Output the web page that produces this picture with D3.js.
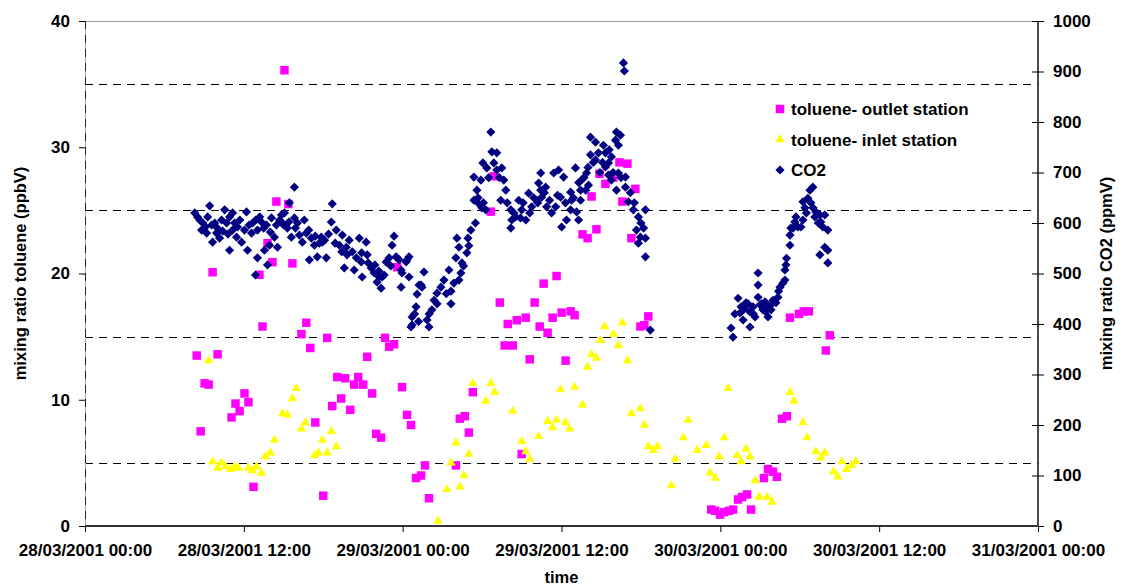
<!DOCTYPE html>
<html>
<head>
<meta charset="utf-8">
<title>toluene and CO2 mixing ratios</title>
<style>
body { margin: 0; background: #fff; }
svg text { font-family: Arial, "Liberation Sans", sans-serif; font-weight: bold; fill: #000; }
</style>
</head>
<body>
<svg id="chart" width="1122" height="588"></svg>
<script src="https://d3js.org/d3.v7.min.js"></script>
<script>
// hours since 28/03/2001 00:00
var outletHours = [8.44,8.74,9.04,9.34,9.64,10.02,11.07,11.37,11.68,12.05,12.35,12.73,13.18,13.41,13.79,14.16,14.46,15.07,15.37,15.67,
  16.35,16.72,17.02,17.40,18.0,18.3,18.68,19.06,19.36,19.66,20.04,20.34,20.64,21.02,21.32,21.69,22.0,22.37,22.67,22.98,
  23.35,23.58,23.95,24.33,24.63,25.01,25.39,25.69,25.99,28.02,28.32,28.70,29.0,29.3,30.66,30.89,31.34,31.71,31.94,32.32,
  32.62,32.99,33.30,33.60,33.97,34.35,34.65,34.95,35.33,35.63,36.01,36.31,36.69,36.99,37.59,37.97,38.27,38.64,38.87,39.32,
  39.92,40.38,40.6,40.98,41.28,41.58,41.96,42.26,42.56,47.31,47.61,47.98,48.29,48.66,48.96,49.34,49.64,50.02,50.32,51.3,
  51.6,51.98,52.28,52.66,53.03,53.26,53.94,54.31,54.69,55.97,56.27];
var outletPpbv = [13.5,7.5,11.3,11.2,20.1,13.6,8.6,9.7,9.1,10.5,9.8,3.1,19.9,15.8,22.4,20.9,25.7,36.1,25.5,20.8,
  15.2,16.1,14.1,8.2,2.4,14.9,9.5,11.8,10.1,11.7,9.2,11.2,11.8,11.2,13.4,10.5,7.3,7.0,14.9,14.2,
  14.4,20.5,11.0,8.8,8.0,3.8,4.0,4.8,2.2,4.8,8.5,8.7,7.4,10.6,24.9,27.7,17.7,14.3,16.0,14.3,
  16.3,5.7,16.5,13.2,17.7,15.8,19.2,15.3,16.5,19.8,16.9,13.1,17.0,16.7,23.1,22.8,26.1,23.5,27.9,27.1,
  27.6,28.8,25.7,28.7,22.8,26.7,15.8,15.9,16.6,1.3,1.2,0.9,1.1,1.2,1.3,2.1,2.3,2.5,1.3,3.8,
  4.5,4.3,3.9,8.5,8.7,16.5,16.8,17.0,17.0,13.9,15.1];

var inletHours = [9.34,9.64,10.02,10.32,10.62,11.0,11.3,11.6,12.35,12.66,12.96,13.33,13.63,14.01,14.31,14.92,15.29,15.67,15.97,16.35,
  16.65,17.33,17.63,17.93,18.3,18.61,18.98,26.67,27.34,27.65,28.02,28.32,28.63,29.0,29.3,30.28,30.66,30.96,32.32,32.99,
  33.3,33.6,34.27,34.95,35.33,35.63,35.93,36.31,36.61,36.99,37.59,37.97,38.27,38.64,38.95,39.25,39.92,40.3,40.6,40.98,
  41.28,41.96,42.26,42.56,42.94,43.24,44.29,44.59,45.2,45.57,46.25,46.93,47.23,47.61,47.91,48.29,48.59,49.27,49.57,49.94,
  50.24,50.62,50.92,51.53,51.9,53.26,53.56,54.24,54.54,55.22,55.59,55.89,56.57,56.87,57.18,57.55,57.93,58.23];
var inletPpbv = [13.1,5.1,4.6,5.0,4.7,4.5,4.7,4.6,4.6,4.4,4.7,4.2,5.5,5.8,6.8,8.9,8.8,10.1,10.9,7.7,
  8.2,5.6,5.8,6.8,5.8,7.5,6.3,0.4,2.9,5.0,6.6,3.1,4.0,5.7,11.3,9.9,11.3,10.6,9.1,6.7,
  5.9,5.3,7.1,8.3,7.8,8.4,10.8,8.2,7.7,11.0,9.6,12.6,13.6,13.3,14.7,15.8,15.2,14.3,16.1,13.1,
  8.9,9.3,8.0,6.3,6.0,6.3,3.2,5.3,7.0,8.4,6.0,6.4,4.2,3.8,5.5,7.0,10.9,5.6,5.1,6.1,
  5.5,3.6,2.3,2.3,1.9,10.6,9.9,8.2,7.0,5.9,5.4,5.8,4.3,3.9,5.1,4.5,4.8,5.1];

var co2Hours = [8.29,9.42,9.27,8.66,8.81,9.19,9.57,9.64,9.94,10.17,10.55,10.32,10.70,10.92,11.15,10.92,11.15,11.45,11.53,11.83,
  12.20,12.05,12.28,12.58,12.66,13.03,13.03,12.88,13.33,13.56,13.79,13.94,13.71,14.09,14.31,14.54,14.46,14.84,14.92,15.07,
  15.29,15.44,15.82,15.59,15.82,16.05,16.57,16.72,16.42,16.95,17.10,17.33,17.55,17.85,17.93,18.23,18.68,18.61,18.98,19.21,
  19.44,19.74,19.96,19.59,20.19,20.34,20.72,20.87,20.94,21.24,21.32,21.62,21.85,22.07,22.37,22.45,22.75,22.98,23.35,23.20,
  23.58,23.88,23.88,24.26,24.48,24.48,25.24,25.61,25.09,25.01,24.71,24.71,
  8.5,8.9,9.1,9.8,10.0,10.4,10.8,11.3,11.7,12.4,12.9,13.2,13.5,14.0,14.7,15.0,15.4,15.9,16.2,16.9,
  17.4,17.7,18.1,18.4,18.9,19.4,19.8,20.5,20.9,21.4,21.9,22.2,22.6,23.1,
  22.22,23.50,23.73,23.95,24.33,24.63,25.39,25.46,25.84,25.99,26.21,26.37,26.59,26.89,27.12,27.50,27.65,27.65,27.87,28.25,
  28.40,28.48,28.02,28.25,28.10,28.85,28.93,29.15,29.38,29.61,29.38,29.76,29.98,30.28,30.06,30.36,30.66,30.74,31.11,30.89,
  31.11,31.49,31.64,31.79,31.41,29.91,32.17,32.24,32.17,32.54,32.77,32.99,33.30,33.52,33.75,34.12,34.43,34.43,34.27,34.50,
  34.80,34.88,35.25,35.56,35.93,35.41,35.78,36.16,36.01,36.38,36.69,36.69,36.76,37.14,37.29,37.44,37.51,37.06,37.89,37.44,
  37.82,38.04,38.19,38.57,38.19,38.57,38.79,39.17,39.32,39.55,39.77,40.15,40.45,40.08,40.30,39.32,39.55,39.77,40.30,40.83,
  40.15,40.83,41.05,41.43,41.81,42.34,41.66,41.96,42.34,41.81,42.34,42.71,40.68,40.75,
  24.9,25.2,26.0,26.6,27.3,28.6,29.0,29.5,29.7,30.1,30.5,31.3,31.9,32.4,32.9,33.1,33.6,33.9,34.2,34.7,
  35.1,35.7,36.3,36.9,37.3,37.7,38.0,38.4,38.9,39.1,39.6,39.9,40.5,41.2,41.5,42.0,42.2,
  48.96,48.81,49.34,49.57,49.49,49.72,50.24,49.94,50.24,50.47,50.62,50.85,50.85,50.85,51.0,51.22,51.37,51.60,51.60,51.83,
  51.98,52.20,52.35,52.51,52.73,52.88,52.88,52.96,53.26,53.26,53.33,53.63,53.71,53.86,54.09,54.24,54.39,54.24,54.61,54.77,
  54.99,54.84,55.14,55.22,55.52,55.59,55.89,55.74,56.12,55.52,55.89,56.12,56.12,
  49.1,49.8,50.1,50.5,51.1,51.4,51.9,52.4,53.0,53.5,54.5,55.0,55.4];
var co2Ppmv = [620,634,612,606,586,580,596,562,580,570,626,606,600,612,620,546,586,572,592,562,
  622,586,546,580,600,586,531,497,602,546,517,556,596,610,572,552,596,616,600,620,
  590,640,671,572,610,600,606,580,562,527,570,556,533,572,562,531,638,602,586,556,
  576,552,566,511,543,507,570,523,493,562,537,511,501,483,471,493,523,531,574,556,
  531,507,473,523,533,493,477,503,459,434,414,398,
  612,600,592,600,590,584,578,600,606,596,606,612,590,582,606,596,602,590,576,586,
  574,560,566,578,560,543,537,531,541,521,517,505,497,515,
  493,533,527,501,527,394,477,473,408,394,428,447,461,473,487,507,440,465,481,487,
  501,521,531,552,570,541,570,586,645,665,691,638,630,626,719,709,780,741,739,719,
  705,709,685,665,645,685,626,606,590,612,645,626,606,659,632,645,665,699,679,651,
  671,632,620,632,651,699,705,691,592,606,626,661,645,622,606,645,685,709,699,665,
  665,675,770,760,735,725,739,754,739,719,731,780,774,764,754,711,695,685,699,691,
  665,671,642,626,612,626,586,572,570,560,533,388,917,901,
  420,405,420,440,460,515,555,600,650,640,690,690,640,620,610,640,620,650,640,660,
  645,655,640,650,680,690,710,720,700,720,745,700,690,660,640,600,590,
  374,392,451,434,422,408,394,442,424,434,414,453,477,501,438,428,444,414,434,428,
  447,442,453,473,481,487,507,517,556,576,590,602,612,592,592,606,630,642,649,665,
  671,640,612,622,616,602,616,592,586,537,552,546,521,
  420,430,440,420,440,425,440,465,530,590,620,630,600];

var leftTicks = [0, 10, 20, 30, 40];
var rightTicks = [0, 100, 200, 300, 400, 500, 600, 700, 800, 900, 1000];
var gridLines = [5, 15, 25, 35];
var seriesNames = ["toluene- outlet station", "toluene- inlet station", "CO2"];

var svg = d3.select("#chart");
var L = 85, R = 1038, T = 21, B = 526;
var t0 = Date.UTC(2001, 2, 28, 0, 0);
function toDate(h) { return new Date(t0 + h * 3600000); }

var x = d3.scaleUtc().domain([new Date(t0), new Date(Date.UTC(2001, 2, 31, 0, 0))]).range([L, R]);
var yL = d3.scaleLinear().domain([0, 40]).range([B, T]);
var yR = d3.scaleLinear().domain([0, 1000]).range([B, T]);

// dashed grid
svg.append("g").selectAll("line").data(gridLines).join("line")
  .attr("x1", L).attr("x2", R)
  .attr("y1", d => Math.round(yL(d)) + 0.5).attr("y2", d => Math.round(yL(d)) + 0.5)
  .attr("stroke", "#000").attr("stroke-dasharray", "8,6");

// frame
svg.append("line").attr("x1", L).attr("x2", R).attr("y1", T + 0.5).attr("y2", T + 0.5).attr("stroke", "#999");
svg.append("line").attr("x1", L + 0.5).attr("x2", L + 0.5).attr("y1", T).attr("y2", B).attr("stroke", "#aaa");
svg.append("line").attr("x1", L + 0.5).attr("x2", L + 0.5).attr("y1", T).attr("y2", B)
  .attr("stroke", "#222").attr("stroke-dasharray", "8,6");

var fs = "17px";

var gl = svg.append("g").attr("transform", "translate(" + L + ",0)")
  .call(d3.axisLeft(yL).tickValues(leftTicks).tickSize(6).tickPadding(9));
gl.select(".domain").remove();
gl.selectAll("text").style("font-size", fs);

var gr = svg.append("g").attr("transform", "translate(" + R + ",0)")
  .call(d3.axisRight(yR).tickValues(rightTicks).tickFormat(d3.format("d")).tickSize(6).tickPadding(9));
gr.select(".domain").attr("stroke", "#111").attr("stroke-width", 1.5).attr("d", "M0," + T + "V" + B);
gr.selectAll(".tick line").attr("x1", -6);
gr.selectAll("text").style("font-size", fs);

var gb = svg.append("g").attr("transform", "translate(0," + B + ")")
  .call(d3.axisBottom(x).ticks(d3.utcHour.every(12)).tickFormat(d3.utcFormat("%d/%m/%Y %H:%M")).tickSize(6).tickPadding(12));
gb.select(".domain").attr("stroke", "#333").attr("stroke-width", 2).attr("d", "M" + L + ",0H" + R);
gb.selectAll("text").style("font-size", fs);

// axis titles
svg.append("text").attr("transform", "translate(26," + ((T + B) / 2) + ") rotate(-90)")
  .attr("text-anchor", "middle").style("font-size", "16.5px").text("mixing ratio toluene (ppbV)");
svg.append("text").attr("transform", "translate(1112," + ((T + B) / 2) + ") rotate(-90)")
  .attr("text-anchor", "middle").style("font-size", "16.5px").text("mixing ratio CO2 (ppmV)");
svg.append("text").attr("x", (L + R) / 2).attr("y", 583).attr("text-anchor", "middle")
  .style("font-size", "16.5px").text("time");

// series
var sq = d3.symbol().type(d3.symbolSquare).size(72);
var tri = d3.symbol().type(d3.symbolTriangle).size(38);
var dia = d3.symbol().type(d3.symbolSquare).size(42);

svg.append("g").selectAll("path").data(outletHours).join("path")
  .attr("d", sq).attr("fill", "#ff00ff")
  .attr("transform", (d, i) => "translate(" + x(toDate(d)) + "," + yL(outletPpbv[i]) + ")");

svg.append("g").selectAll("path").data(inletHours).join("path")
  .attr("d", tri).attr("fill", "#ffff00")
  .attr("transform", (d, i) => "translate(" + x(toDate(d)) + "," + yL(inletPpbv[i]) + ")");

svg.append("g").selectAll("path").data(co2Hours).join("path")
  .attr("d", dia).attr("fill", "#000080")
  .attr("transform", (d, i) => "translate(" + x(toDate(d)) + "," + yR(co2Ppmv[i]) + ") rotate(45)");

// legend
var lg = svg.append("g").attr("transform", "translate(780,109)");
var items = lg.selectAll("g").data(seriesNames).join("g")
  .attr("transform", (d, i) => "translate(0," + (i * 30.5) + ")");
items.append("path")
  .attr("d", (d, i) => i === 0 ? sq() : i === 1 ? tri() : dia())
  .attr("fill", (d, i) => ["#ff00ff", "#ffff00", "#000080"][i])
  .attr("transform", (d, i) => i === 2 ? "rotate(45)" : null);
items.append("text").attr("x", 11).attr("y", 6).style("font-size", "17px").text(d => d);
</script>
</body>
</html>
